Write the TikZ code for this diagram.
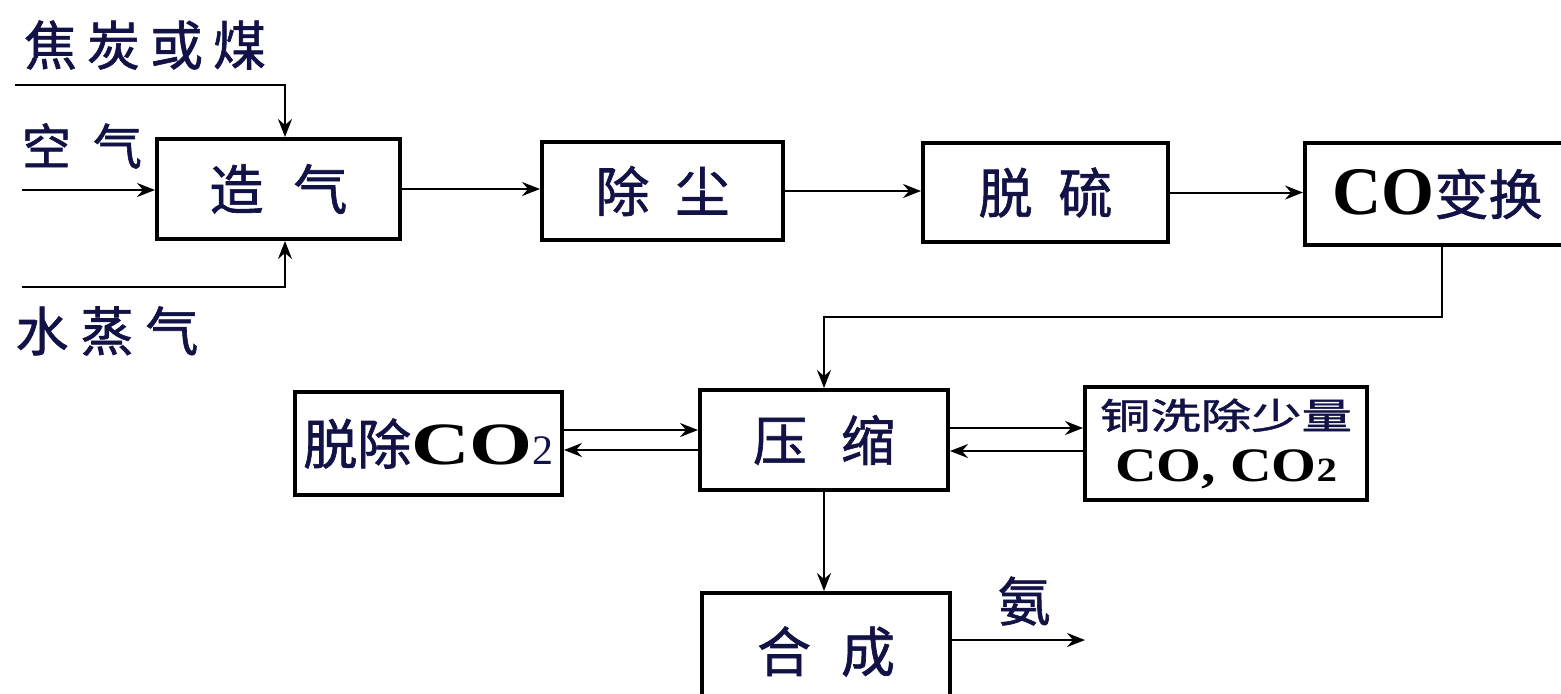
\documentclass[tikz,border=0pt]{standalone}
\usepackage{graphicx}
\usepackage{fontspec}
\setmainfont{Liberation Serif}
\newfontfamily\cjk{Noto Sans CJK SC}[FakeBold=1.2]
\usetikzlibrary{arrows.meta,calc}
\definecolor{ink}{RGB}{18,18,70}
\newcommand{\cjkbig}{\cjk\fontsize{27pt}{30pt}\selectfont}
\newcommand{\cjklab}{\cjk\fontsize{26.5pt}{30pt}\selectfont}
\newcommand{\latb}{\rmfamily\bfseries\color{black}}
\begin{document}
\begin{tikzpicture}[x=0.5pt,y=-0.5pt,
  box/.style={draw=black,line width=2pt,fill=white,inner sep=0pt,text=ink,font=\cjkbig},
  conn/.style={line width=1pt,-{Stealth[length=9pt,width=7pt,inset=3pt]}},
  lbl/.style={text=ink,inner sep=0pt,font=\cjklab}]
\clip (0,0) rectangle (1561,693);
\fill[white] (0,0) rectangle (1561,693);

% boxes
\node[box,minimum width=121.5pt,minimum height=50pt] (zq) at (278.5,189) {造\hspace{15pt}气};
\node[box,minimum width=120.5pt,minimum height=49pt] (cc) at (662.5,191) {除\hspace{13pt}尘};
\node[box,minimum width=122.5pt,minimum height=49.5pt] (tl) at (1045.5,192.5) {脱\hspace{13pt}硫};
\node[box,minimum width=132.5pt,minimum height=51pt] (co) at (1437.5,194)
  {{\fontsize{34pt}{36pt}\selectfont\latb CO}变换};
\node[box,minimum width=124pt,minimum height=50pt] (ys) at (824,440) {压\hspace{17pt}缩};
\node[box,minimum width=133.5pt,minimum height=51.5pt] (tc) at (428.5,443.5)
  {脱除\scalebox{1.35}[1]{\fontsize{30pt}{32pt}\selectfont\latb CO}{\rmfamily\fontsize{21pt}{24pt}\selectfont 2}};
\node[box,minimum width=141pt,minimum height=56.5pt,align=center,font={\rmfamily\fontsize{24pt}{26pt}\selectfont}] (tx) at (1226,443.5)
  {\scalebox{1.4}[1]{\cjk\fontsize{18pt}{20pt}\selectfont 铜洗除少量}\\
   \scalebox{1.2}[1]{\latb CO, CO{\fontsize{17pt}{20pt}\selectfont 2}}};
\node[box,minimum width=124pt,minimum height=58.5pt] (hc) at (826,651.5) {合\hspace{15pt}成};

% side labels
\node[lbl] (l1) at (145,45) {焦\hspace{5pt}炭\hspace{5pt}或\hspace{5pt}煤};
\node[lbl,font={\cjk\fontsize{24.5pt}{28pt}\selectfont}] (l2) at (82,146) {空\hspace{11pt}气};
\node[lbl] (l3) at (107,331) {水\hspace{6pt}蒸\hspace{6pt}气};
\node[lbl] (l4) at (1024,601) {氨};

% helper coordinates
\coordinate (s1) at (15,85);
\coordinate (s1k) at (285,85);
\coordinate (s2) at (22,190);
\coordinate (s3) at (22,287);
\coordinate (s3k) at (285,287);
\coordinate (ya) at (0,430);
\coordinate (yb) at (0,450);
\coordinate (yc) at (0,428);
\coordinate (yd) at (0,451);
\coordinate (out) at (1085,640);

% inputs
\draw[conn] (s1) -- (s1k) -- (s1k |- zq.north);
\draw[conn] (s2) -- (s2 -| zq.west);
\draw[conn] (s3) -- (s3k) -- (s3k |- zq.south);

% main line
\draw[conn] (zq.east) -- (zq.east -| cc.west);
\draw[conn] (cc.east) -- (cc.east -| tl.west);
\draw[conn] (tl.east) -- (tl.east -| co.west);
\draw[conn] ([xshift=2.25pt]co.south) -- ++(0,70) -| (ys.north);

% compression loops
\draw[conn] (tc.east |- ya) -- (ys.west |- ya);
\draw[conn] (ys.west |- yb) -- (tc.east |- yb);
\draw[conn] (ys.east |- yc) -- (tx.west |- yc);
\draw[conn] (tx.west |- yd) -- (ys.east |- yd);

% synthesis
\draw[conn] (ys.south) -- (ys.south |- hc.north);
\draw[conn] (hc.east |- out) -- (out);
\end{tikzpicture}
\end{document}
